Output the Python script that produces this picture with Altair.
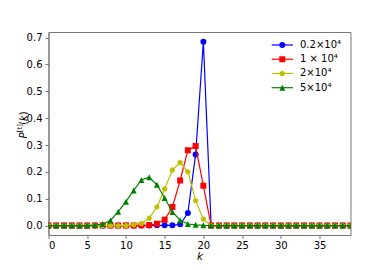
import altair as alt
import pandas as pd

# ---- data ----
k_values = list(range(40))
series_names = ["0.2×10⁴", "1 × 10⁴", "2×10⁴", "5×10⁴"]
series_colors = ["#0000ff", "#ff0000", "#bfbf00", "#008000"]
series_shapes = [
    "circle",
    "square",
    "M0,-1L0.951,-0.309L0.588,0.809L-0.588,0.809L-0.951,-0.309Z",
    "M0,-1L1,1L-1,1Z",
]

p_blue = [0, 0, 0, 0, 0, 0, 0, 0, 0, 0,
          0, 0, 0, 0, 0.001, 0.001, 0.001, 0.005, 0.047, 0.265,
          0.685, 0, 0, 0, 0, 0, 0, 0, 0, 0,
          0, 0, 0, 0, 0, 0, 0, 0, 0, 0]
p_red = [0, 0, 0, 0, 0, 0, 0, 0, 0, 0,
         0, 0, 0.001, 0.002, 0.007, 0.022, 0.069, 0.168, 0.281, 0.296,
         0.148, 0, 0, 0, 0, 0, 0, 0, 0, 0,
         0, 0, 0, 0, 0, 0, 0, 0, 0, 0]
p_yellow = [0, 0, 0, 0, 0, 0, 0, 0, 0, 0,
            0, 0.003, 0.008, 0.027, 0.069, 0.136, 0.207, 0.235, 0.200, 0.093,
            0.024, 0, 0, 0, 0, 0, 0, 0, 0, 0,
            0, 0, 0, 0, 0, 0, 0, 0, 0, 0]
p_green = [0, 0, 0, 0, 0, 0, 0.002, 0.006, 0.019, 0.052,
           0.089, 0.131, 0.170, 0.180, 0.152, 0.103, 0.051, 0.020, 0.006, 0.003,
           0.001, 0, 0, 0, 0, 0, 0, 0, 0, 0,
           0, 0, 0, 0, 0, 0, 0, 0, 0, 0]

y_ticks = [0.0, 0.1, 0.2, 0.3, 0.4, 0.5, 0.6, 0.7]
x_ticks = [0, 5, 10, 15, 20, 25, 30, 35]

all_p = [p_blue, p_red, p_yellow, p_green]
rows = []
for name, vals in zip(series_names, all_p):
    for kk, pv in zip(k_values, vals):
        rows.append({"k": kk, "p": pv, "series": name})
df = pd.DataFrame(rows)

SPINE = "#777777"
FONT = "DejaVu Sans"

color_scale = alt.Scale(domain=series_names, range=series_colors)
x_scale = alt.Scale(domain=[0, 39], nice=False, zero=False)
y_scale = alt.Scale(domain=[-0.035, 0.721], nice=False, zero=False)

x_axis = alt.Axis(values=x_ticks, title="k", titleFontStyle="italic",
                  titleFontWeight="normal", titleFontSize=10.5,
                  titlePadding=1, labelPadding=2)
y_axis = alt.Axis(values=y_ticks, format=".1f", title=None, labelPadding=3)
x_enc = alt.X("k:Q", scale=x_scale, axis=x_axis)
y_enc = alt.Y("p:Q", scale=y_scale, axis=y_axis)
c_enc = alt.Color("series:N", scale=color_scale, legend=None)

base = alt.Chart(df)
data_layers = []
for name, shp in zip(series_names, series_shapes):
    sub = base.transform_filter(alt.datum.series == name)
    line = sub.mark_line(strokeWidth=1.2, clip=True).encode(
        x=x_enc, y=y_enc, color=c_enc)
    pts = sub.mark_point(shape=shp, filled=True, size=36, strokeWidth=1,
                         opacity=1, clip=True).encode(
        x=x_enc, y=y_enc, color=c_enc)
    data_layers += [line, pts]

main = alt.layer(*data_layers)

# ---- manual legend ----
leg_df = pd.DataFrame({"series": series_names})
leg_y = alt.Y("series:N", axis=None,
              scale=alt.Scale(type="point", domain=series_names,
                              range=[13, 55.7], padding=0))
leg_base = alt.Chart(leg_df)
leg_layers = []
for name, shp in zip(series_names, series_shapes):
    sub = leg_base.transform_filter(alt.datum.series == name)
    leg_layers.append(sub.mark_rule(strokeWidth=1.2).encode(
        x=alt.value(223.2), x2=alt.value(244.5), y=leg_y, color=c_enc))
    leg_layers.append(sub.mark_point(shape=shp, filled=True, size=36,
                                     strokeWidth=1, opacity=1).encode(
        x=alt.value(233.8), y=leg_y, color=c_enc))
leg_text = leg_base.mark_text(align="left", baseline="middle", font=FONT,
                              fontSize=10, color="black").encode(
    x=alt.value(251.5), y=leg_y, text="series:N")
legend = alt.layer(*leg_layers, leg_text)

# ---- y axis title P^[t](k) ----
one = pd.DataFrame({"a": [0]})
def ylab(txt, x, y, size=10, style="normal"):
    return alt.Chart(one).mark_text(angle=270, align="left", baseline="middle",
                                    font=FONT, fontSize=size, fontStyle=style,
                                    color="black").encode(
        x=alt.value(x), y=alt.value(y), text=alt.value(txt))

ytitle = alt.layer(
    ylab("P", -24.8, 106.5, 10, "italic"),
    ylab("[t]", -28.3, 100.3, 7),
    ylab("(", -24.8, 92.8, 10),
    ylab("k", -24.8, 89.0, 10, "italic"),
    ylab(")", -24.8, 83.3, 10),
)

chart = alt.layer(main, legend, ytitle).resolve_scale(y="independent").properties(
    width=302, height=203,
    autosize=alt.AutoSizeParams(type="none"),
    padding={"left": 40.5, "top": 24, "right": 31.5, "bottom": 27},
).configure_axis(
    grid=False, domainColor=SPINE, tickColor=SPINE, tickSize=3.5,
    labelFont=FONT, labelFontSize=10, labelColor="black",
    titleFont=FONT, titleColor="black",
).configure_view(stroke=SPINE, strokeWidth=1)

chart.save("out.html", embed_options={"renderer": "svg", "actions": False})
